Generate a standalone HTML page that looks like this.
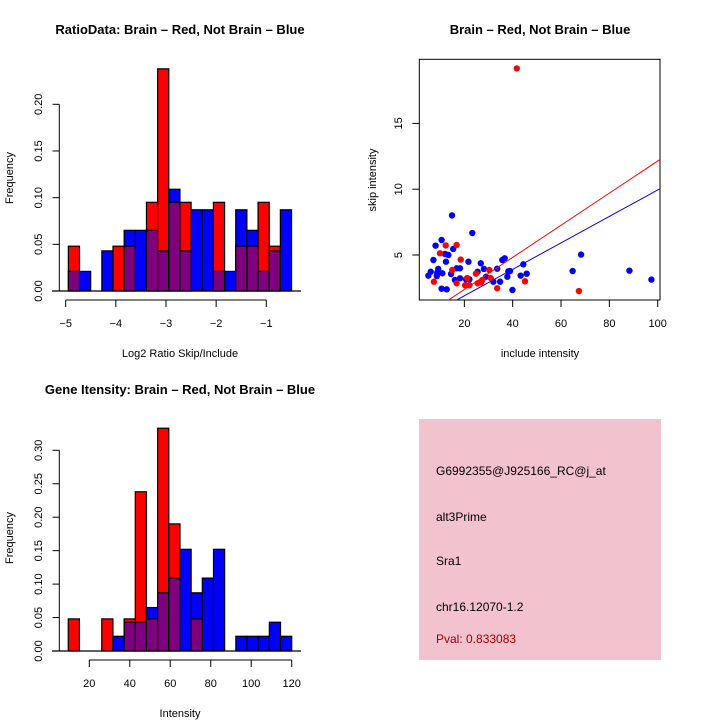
<!DOCTYPE html>
<html><head><meta charset="utf-8"><style>
body{margin:0;background:#fff;}
svg{display:block;font-family:"Liberation Sans",sans-serif;}
</style></head><body>
<svg id="c" width="720" height="720" viewBox="0 0 720 720">
<rect x="0" y="0" width="720" height="720" fill="#fff"/>
<g id="p1"></g>
<g id="p2"></g>
<g id="p3"></g>
<g>
<rect x="419" y="419" width="242" height="241" fill="#f2c3cf"/>
<g font-size="12" fill="#000">
<text x="436" y="475">G6992355@J925166_RC@j_at</text>
<text x="436" y="521">alt3Prime</text>
<text x="436" y="565">Sra1</text>
<text x="436" y="611">chr16.12070-1.2</text>
<text x="436" y="643" fill="#a00000">Pval: 0.833083</text>
</g></g>
</svg>
<script>
const ratioRed  = [0.048,0,0,0,0.048,0.048,0,0.095,0.238,0.095,0.095,0,0,0.095,0,0.048,0.048,0.095,0.048,0];
const ratioBlue = [0.021,0.021,0,0.043,0,0.065,0.065,0.065,0.043,0.109,0.043,0.087,0.087,0.021,0.021,0.087,0.065,0.021,0.043,0.087];
const ratioBinStart = -4.947, ratioBinWidth = 0.2225;
const ratioXTicks = [-5,-4,-3,-2,-1];
const ratioYTicks = ["0.00","0.05","0.10","0.15","0.20"];

const geneRed  = [0.048,0,0,0.048,0,0.048,0.238,0.048,0.333,0.19,0,0.048,0,0,0,0,0,0,0,0];
const geneBlue = [0,0,0,0,0.022,0.043,0.043,0.065,0.087,0.109,0.152,0.087,0.109,0.152,0,0.022,0.022,0.022,0.043,0.022];
const geneBinStart = 9.6, geneBinWidth = 5.52;
const geneXTicks = [20,40,60,80,100,120];
const geneYTicks = ["0.00","0.05","0.10","0.15","0.20","0.25","0.30"];

const blueX = [5.1,6.1,7.2,8.1,8.6,9.2,8.8,10.6,10.9,10.6,12.0,12.7,12.4,13.4,14.5,14.9,15.4,16.1,16.8,18.2,18.2,21.7,22.1,20.7,23.3,25.5,26.8,28.1,29.0,32.0,33.6,34.8,35.7,36.7,37.8,38.2,38.9,39.9,43.3,44.4,45.8,64.8,68.3,88.3,97.4];
const blueY = [3.43,3.73,4.62,5.71,3.40,3.94,3.66,6.14,3.61,2.44,5.08,2.39,4.49,5.0,3.56,8.01,5.46,3.10,3.99,3.99,3.23,4.49,3.15,3.15,6.67,3.73,4.37,3.94,3.35,2.97,3.96,2.97,4.62,4.75,3.35,3.76,3.78,2.34,3.43,4.29,3.58,3.78,5.03,3.81,3.13];
const redX = [7.4,9.9,12.3,15.0,16.8,16.8,18.5,20.3,21.2,22.1,24.8,25.5,26.9,27.4,30.3,30.9,33.6,45.1,41.7,67.4];
const redY = [2.97,5.13,5.73,3.86,5.76,2.85,4.65,2.70,3.25,2.70,3.58,2.85,2.92,3.10,3.86,3.25,2.47,3.00,19.18,2.26];
const redFit = [-0.06,0.122];
const blueFit = [-0.11,0.1005];
const scatXTicks = [20,40,60,80,100];
const scatYTicks = [5,10,15];

const NS="http://www.w3.org/2000/svg";
function mk(parent,tag,attrs,text){const e=document.createElementNS(NS,tag);for(const k in attrs)e.setAttribute(k,attrs[k]);if(text!==undefined)e.textContent=text;parent.appendChild(e);return e;}

function hist(g,red,blue,start,w,xs,ys,x0,ppx,y0,ppy,xt,yt,title,xlab,ty,xly,ylabY){
  for(let i=0;i<red.length;i++){
    const a=start+i*w;
    const xl=xs(a), xr=xs(a+w);
    const hi=Math.max(red[i],blue[i]), lo=Math.min(red[i],blue[i]);
    if(hi>0){
      const r=mk(g,'rect',{x:xl,y:ys(hi),width:xr-xl,height:ys(0)-ys(hi),fill:red[i]>=blue[i]?'#ff0000':'#0000ff',stroke:'#000','stroke-width':1.2});
      
      
    }
    if(lo>0){
      const r=mk(g,'rect',{x:xl,y:ys(lo),width:xr-xl,height:ys(0)-ys(lo),fill:'#7f007f',stroke:'#000','stroke-width':1.2});
      
      
    }
  }
  const base=mk(g,'line',{x1:52,x2:301,y1:ys(0),y2:ys(0),stroke:'#000','stroke-width':1.2});
  
  
  // y axis
  const yv=yt.map(Number);
  const ya=mk(g,'line',{x1:59.3,x2:59.3,y1:ys(yv[0]),y2:ys(yv[yv.length-1]),stroke:'#000'});
  
  
  yt.forEach(t=>{const y=ys(Number(t));mk(g,'line',{x1:52.5,x2:59.3,y1:y,y2:y,stroke:'#000'});
    const tx=mk(g,'text',{x:42,y:y,'font-size':11,'text-anchor':'middle',transform:'rotate(-90 42 '+y+')'},t);
    
    });
  const xa=mk(g,'line',{x1:xs(xt[0]),x2:xs(xt[xt.length-1]),y1:ys(0)+9,y2:ys(0)+9,stroke:'#000'});
  
  
  xt.forEach(t=>{const x=xs(t);mk(g,'line',{x1:x,x2:x,y1:ys(0)+9,y2:ys(0)+16,stroke:'#000'});
    const tx=mk(g,'text',{x:x,y:ys(0)+36,'font-size':11,'text-anchor':'middle'},String(t).replace('-','\u2212'));
    
    });
  const tt=mk(g,'text',{x:180,y:ty,'font-size':13,'font-weight':'bold','text-anchor':'middle'},title);
  
  
  const xl2=mk(g,'text',{x:180,y:xly,'font-size':11,'text-anchor':'middle'},xlab);
  
  
  const yl=mk(g,'text',{x:13,y:ylabY,'font-size':11,'text-anchor':'middle',transform:'rotate(-90 13 '+ylabY+')'},'Frequency');
  
  
}

// Plot 1
{const g=document.getElementById('p1');
 const xs=v=>65.7+(v+5)*50.15, ys=v=>291-v*933.5;
 hist(g,ratioRed,ratioBlue,ratioBinStart,ratioBinWidth,xs,ys,0,0,0,0,ratioXTicks,ratioYTicks,'RatioData: Brain \u2013 Red, Not Brain \u2013 Blue','Log2 Ratio Skip/Include',34,357,178);}
// Plot 3
{const g=document.getElementById('p3');
 const xs=v=>89.3+(v-20)*2.024, ys=v=>651-v*669;
 hist(g,geneRed,geneBlue,geneBinStart,geneBinWidth,xs,ys,0,0,0,0,geneXTicks,geneYTicks,'Gene Itensity: Brain \u2013 Red, Not Brain \u2013 Blue','Intensity',394,717,538);}
// Plot 2
{const g=document.getElementById('p2');
 const xs=v=>416+v*2.417, ys=v=>320.8-v*13.16;
 const L=419.3,R=660,T=59.3,B=300;
 mk(g,'clipPath',{id:'clip'}).appendChild(Object.assign(document.createElementNS(NS,'rect'),{}));
 const cr=document.querySelector('#clip rect');cr.setAttribute('x',L);cr.setAttribute('y',T);cr.setAttribute('width',R-L);cr.setAttribute('height',B-T);
 const box=mk(g,'rect',{x:L,y:T,width:R-L,height:B-T,fill:'none',stroke:'#000'});
 
 
 const cg=mk(g,'g',{'clip-path':'url(#clip)'});
 blueX.forEach((x,i)=>{const c=mk(cg,'circle',{cx:xs(x),cy:ys(blueY[i]),r:3.2,fill:'#0000ff'});
   
   });
 redX.forEach((x,i)=>{const c=mk(cg,'circle',{cx:xs(x),cy:ys(redY[i]),r:3.2,fill:'#ff0000'});
   
   });
 [[redFit,'#ff0000','fit-line-red'],[blueFit,'#0000ff','fit-line-blue']].forEach(([f,col,nm])=>{
   const l=mk(cg,'line',{x1:xs(0),y1:ys(f[0]),x2:xs(110),y2:ys(f[0]+f[1]*110),stroke:col,'stroke-width':1});
   
   });
 scatXTicks.forEach(t=>{const x=xs(t);mk(g,'line',{x1:x,x2:x,y1:B,y2:B+7,stroke:'#000'});
   const tx=mk(g,'text',{x:x,y:B+27,'font-size':11,'text-anchor':'middle'},t);
   
   });
 scatYTicks.forEach(t=>{const y=ys(t);mk(g,'line',{x1:L-7,x2:L,y1:y,y2:y,stroke:'#000'});
   const tx=mk(g,'text',{x:402,y:y,'font-size':11,'text-anchor':'middle',transform:'rotate(-90 402 '+y+')'},t);
   
   });
 const tt=mk(g,'text',{x:540,y:34,'font-size':13,'font-weight':'bold','text-anchor':'middle'},'Brain \u2013 Red, Not Brain \u2013 Blue');
 
 
 const xl=mk(g,'text',{x:540,y:357,'font-size':11,'text-anchor':'middle'},'include intensity');
 
 
 const yl=mk(g,'text',{x:376,y:180,'font-size':11,'text-anchor':'middle',transform:'rotate(-90 376 180)'},'skip intensity');
 
 }
</script>
</body></html>
